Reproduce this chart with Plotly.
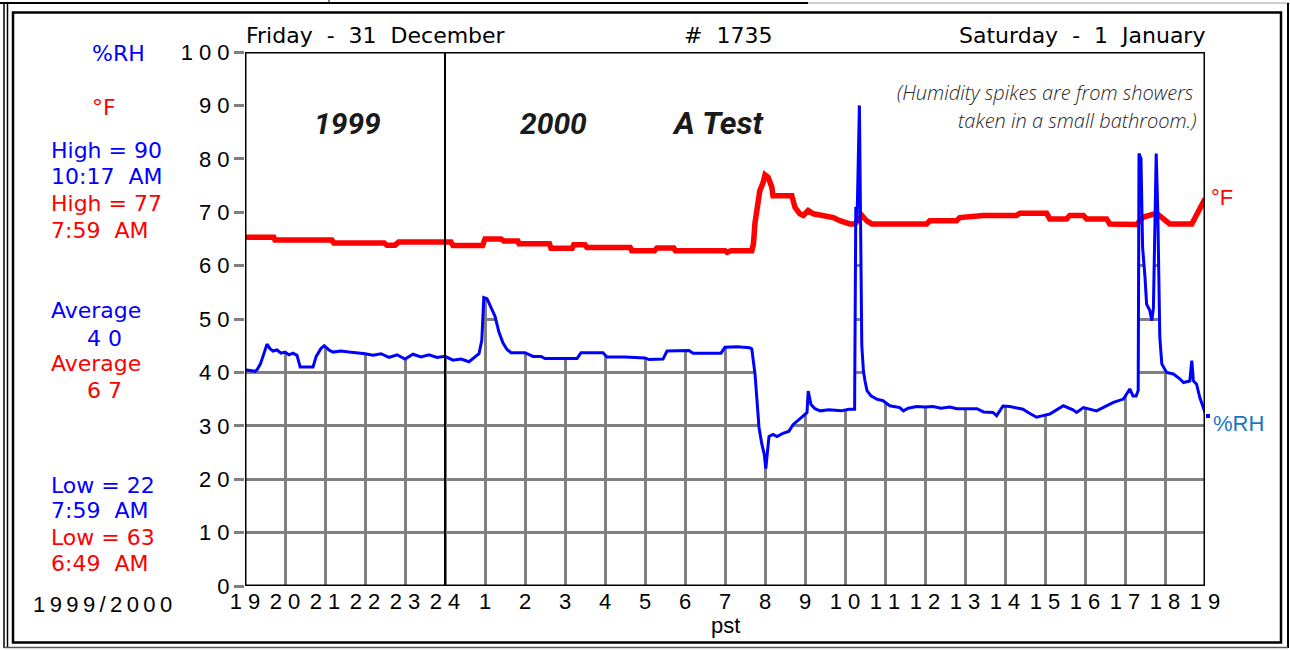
import plotly.graph_objects as go

# ---------------- data ----------------
# hours since 19:00 Friday (0) to 19:00 Saturday (24)
hour_ticks = list(range(25))
hour_labels = ["19", "20", "21", "22", "23", "24", "1", "2", "3", "4", "5", "6", "7",
               "8", "9", "10", "11", "12", "13", "14", "15", "16", "17", "18", "19"]
y_ticks = [0, 10, 20, 30, 40, 50, 60, 70, 80, 90, 100]

rh_hours = [0.0, 0.25, 0.3, 0.38, 0.45, 0.55, 0.62, 0.7, 0.8, 0.9, 1.0, 1.1, 1.2, 1.3, 1.38,
            1.7, 1.78, 1.9, 1.98, 2.1, 2.2, 2.4, 2.6, 2.8, 3.0, 3.2, 3.4, 3.6, 3.8, 4.0,
            4.2, 4.4, 4.6, 4.8, 5.0, 5.2, 5.4, 5.6, 5.75, 5.85, 5.92, 5.97, 6.05, 6.15,
            6.25, 6.35, 6.45, 6.55, 6.65, 7.0, 7.2, 7.4, 7.5, 8.3, 8.4, 8.95, 9.05, 9.5,
            9.8, 10.0, 10.1, 10.45, 10.55, 11.1, 11.2, 11.9, 12.0, 12.3, 12.62, 12.67,
            12.75, 12.79, 12.85, 12.92, 12.98, 13.02, 13.1, 13.2, 13.3, 13.45, 13.6, 13.7,
            13.8, 13.95, 14.05, 14.08, 14.15, 14.25, 14.38, 14.6, 14.9, 15.1, 15.24, 15.27,
            15.3, 15.36, 15.42, 15.46, 15.5, 15.55, 15.65, 15.79, 15.95, 16.12, 16.37,
            16.46, 16.58, 16.79, 17.0, 17.2, 17.4, 17.62, 17.8, 18.3, 18.46, 18.7, 18.79,
            18.95, 19.12, 19.45, 19.6, 19.79, 19.95, 20.12, 20.46, 20.7, 20.79, 20.96,
            21.29, 21.46, 21.71, 21.96, 22.12, 22.2, 22.28, 22.33, 22.35, 22.4, 22.44,
            22.5, 22.54, 22.62, 22.67, 22.71, 22.75, 22.78, 22.82, 22.87, 22.92, 23.04,
            23.21, 23.37, 23.46, 23.62, 23.67, 23.71, 23.79, 23.87, 23.96, 24.0]
rh_values = [40.5, 40.2, 40.5, 41.5, 43.0, 45.3, 44.5, 44.0, 44.2, 43.6, 43.8, 43.3, 43.6,
             43.2, 41.0, 41.0, 43.0, 44.5, 45.0, 44.2, 43.8, 44.0, 43.8, 43.7, 43.5, 43.2,
             43.5, 42.8, 43.3, 42.5, 43.4, 42.9, 43.3, 42.8, 43.0, 42.3, 42.5, 42.0, 42.8,
             43.5, 46.0, 54.0, 53.8, 52.0, 50.5, 47.5, 45.5, 44.3, 43.7, 43.7, 43.0, 43.0,
             42.6, 42.6, 43.7, 43.7, 42.9, 42.9, 42.7, 42.7, 42.4, 42.5, 44.0, 44.1, 43.6,
             43.6, 44.7, 44.8, 44.6, 44.4, 39.7, 35.3, 29.7, 26.6, 24.7, 22.0, 28.0, 28.4,
             28.0, 28.6, 29.0, 30.2, 30.8, 31.8, 32.5, 36.5, 34.0, 33.2, 32.8, 33.0, 32.8,
             33.1, 33.1, 71.0, 68.0, 90.0, 45.0, 40.3, 38.4, 36.6, 35.6, 35.0, 34.7, 33.75,
             33.4, 32.8, 33.3, 33.6, 33.5, 33.6, 33.3, 33.5, 33.2, 33.2, 32.6, 32.5, 31.9,
             33.7, 33.6, 33.1, 32.4, 31.6, 31.9, 32.2, 33.75, 33.0, 32.5, 33.4, 32.8, 33.4,
             34.4, 35.0, 36.9, 35.6, 35.6, 36.6, 81.0, 80.0, 63.4, 57.8, 52.8, 51.6, 49.7,
             52.0, 70.0, 81.0, 70.0, 46.6, 41.6, 40.0, 39.7, 38.8, 38.1, 38.4, 42.2, 38.4,
             37.8, 35.3, 33.4, 32.5]

temp_hours = [0.0, 0.72, 0.75, 2.17, 2.22, 3.48, 3.55, 3.75, 3.84, 5.15, 5.2, 5.94, 6.0,
              6.4, 6.47, 6.82, 6.85, 7.61, 7.65, 8.18, 8.22, 8.5, 8.55, 9.63, 9.67, 10.24,
              10.3, 10.72, 10.76, 12.0, 12.05, 12.15, 12.67, 12.71, 12.75, 12.79, 12.87,
              12.95, 13.0, 13.08, 13.17, 13.2, 13.67, 13.75, 13.87, 13.96, 14.08, 14.21,
              14.46, 14.71, 14.87, 15.12, 15.25, 15.42, 15.54, 15.67, 17.04, 17.12, 17.79,
              17.87, 18.46, 19.29, 19.37, 20.04, 20.12, 20.54, 20.62, 20.96, 21.04, 21.54,
              21.62, 22.12, 22.29, 22.46, 22.79, 22.96, 23.12, 23.67, 23.79, 23.92, 24.0]
temp_values = [65.3, 65.3, 64.8, 64.8, 64.25, 64.25, 63.8, 63.8, 64.4, 64.4, 63.75, 63.75,
               65.0, 65.0, 64.6, 64.6, 64.1, 64.1, 63.25, 63.25, 63.9, 63.9, 63.4, 63.4,
               62.8, 62.8, 63.3, 63.3, 62.8, 62.8, 62.5, 62.8, 62.8, 64.0, 68.0, 70.3, 74.0,
               75.5, 77.0, 76.5, 74.7, 73.1, 73.1, 70.9, 69.7, 69.4, 70.3, 69.7, 69.4, 69.0,
               68.4, 67.8, 67.8, 69.4, 68.4, 67.8, 67.8, 68.4, 68.4, 69.0, 69.4, 69.4, 69.8,
               69.8, 68.75, 68.75, 69.4, 69.4, 68.75, 68.75, 67.8, 67.8, 67.7, 69.1, 69.8,
               68.75, 67.8, 67.8, 69.4, 71.25, 72.5]

BLUE = "#0000ff"
RED = "#ff0000"
FONT = "Liberation Sans, Arial, sans-serif"
WIDE = "DejaVu Sans, Liberation Sans, sans-serif"
NB = "\u00a0"

# ---------------- layout geometry ----------------
W, H = 1290, 650
L, R, T, B = 245, 85, 52, 64
PW, PH = W - L - R, H - T - B


def px(x, y):
    return (x - L) / PW, (H - B - y) / PH


def spaced(s):
    return NB.join(list(s))


fig = go.Figure()

# white cover above the humidity curve (grid only visible below it)
fig.add_trace(go.Scatter(x=rh_hours, y=[100] * len(rh_hours), mode="lines",
                         line=dict(width=0, color="white"), hoverinfo="skip",
                         showlegend=False))
fig.add_trace(go.Scatter(x=rh_hours, y=rh_values, mode="lines", fill="tonexty",
                         fillcolor="white", line=dict(width=0, color="white"),
                         hoverinfo="skip", showlegend=False))
fig.add_trace(go.Scatter(x=temp_hours, y=temp_values, mode="lines", name="°F",
                         line=dict(color=RED, width=5.5), showlegend=False))
fig.add_trace(go.Scatter(x=rh_hours, y=rh_values, mode="lines", name="%RH",
                         line=dict(color=BLUE, width=3), showlegend=False))

fig.update_xaxes(range=[0, 24], tickvals=hour_ticks,
                 ticktext=[spaced(t) for t in hour_labels],
                 showgrid=True, gridcolor="#808080", gridwidth=2.5, zeroline=False,
                 showline=False, ticks="", tickfont=dict(family=FONT, size=22, color="black"),
                 fixedrange=True)
fig.update_yaxes(range=[0, 100], tickvals=y_ticks,
                 ticktext=[spaced(str(v)) for v in y_ticks],
                 showgrid=True, gridcolor="#808080", gridwidth=2.5, zeroline=False,
                 showline=False, ticks="outside", ticklen=10, tickwidth=2.5,
                 tickcolor="#808080", tickfont=dict(family=FONT, size=22, color="black"),
                 fixedrange=True)

shapes = []
# plot frame
shapes.append(dict(type="rect", xref="x", yref="y", x0=0, x1=24, y0=0, y1=100,
                   line=dict(color="black", width=3), layer="above"))
# midnight divider
shapes.append(dict(type="line", xref="x", yref="y", x0=5, x1=5, y0=0, y1=100,
                   line=dict(color="black", width=2), layer="above"))


def pline(x0, y0, x1, y1, color="black", width=2):
    a, b = px(x0, y0)
    c, d = px(x1, y1)
    shapes.append(dict(type="line", xref="paper", yref="paper", x0=a, y0=b, x1=c, y1=d,
                       line=dict(color=color, width=width), layer="above"))


# outer page frame
pline(0, 3, 808, 3, "black", 2)
pline(808, 3, 1290, 3, "#9a9a9a", 1)
pline(329, 0, 329, 4, "black", 1)
pline(4, 3, 4, 648, "black", 1.5)
pline(7.5, 3, 7.5, 648, "black", 1.5)
pline(1288, 3, 1288, 648, "black", 2)
pline(4, 647.5, 1288, 647.5, "#555555", 1.5)
# inner frame
a, b = px(13, 12.5)
c, d = px(1281, 642.5)
shapes.append(dict(type="rect", xref="paper", yref="paper", x0=a, y0=d, x1=c, y1=b,
                   line=dict(color="black", width=2.5), layer="above"))
# small blue end dot
a, b = px(1206, 414)
c, d = px(1210, 418)
shapes.append(dict(type="rect", xref="paper", yref="paper", x0=a, y0=d, x1=c, y1=b,
                   line=dict(width=0), fillcolor=BLUE, layer="above"))

annotations = []


def text(s, x, y, color="black", size=22, anchor="center", family=WIDE, style="normal",
         weight="normal"):
    xp, yp = px(x, y)
    annotations.append(dict(text=s, x=xp, y=yp, xref="paper", yref="paper",
                            xanchor=anchor, yanchor="middle", showarrow=False,
                            font=dict(family=family, size=size, color=color, style=style,
                                      weight=weight)))


# top titles
text(f"Friday{NB}{NB}-{NB}{NB}31{NB}{NB}December", 244, 35, anchor="left")
text(f"#{NB}{NB}1735", 728, 35)
text(f"Saturday{NB}{NB}-{NB}{NB}1{NB}{NB}January", 1207, 35, anchor="right")

# left legend / statistics
text("%RH", 118, 53, BLUE)
text("°F", 104, 107, RED)
text("High = 90", 49, 150, BLUE, anchor="left")
text(f"10:17{NB}{NB}AM", 49, 176, BLUE, anchor="left")
text("High = 77", 49, 203, RED, anchor="left")
text(f"7:59{NB}{NB}AM", 49, 230, RED, anchor="left")
text("Average", 49, 310, BLUE, anchor="left")
text(spaced("40"), 104, 338, BLUE)
text("Average", 49, 363, RED, anchor="left")
text(spaced("67"), 104, 390, RED)
text("Low = 22", 49, 485, BLUE, anchor="left")
text(f"7:59{NB}{NB}AM", 49, 510, BLUE, anchor="left")
text("Low = 63", 49, 537, RED, anchor="left")
text(f"6:49{NB}{NB}AM", 49, 563, RED, anchor="left")
text("\u2009".join(list("1999/2000")), 102, 604, "black", 22, family=FONT)

# right labels
text("°F", 1209, 197, RED, 22, "left", FONT)
text("%RH", 1211, 423, "#1a78c2", 22, "left", FONT)

# axis title
text("pst", 725, 625, "black", 22, family=FONT)

# in-plot notes
HAND = "Liberation Sans Narrow, Roboto, sans-serif"
text("1999", 347, 123, "#1a1a1a", 30, family=HAND, style="italic", weight="bold")
text("2000", 553, 123, "#1a1a1a", 30, family=HAND, style="italic", weight="bold")
text("A Test", 718, 123, "#1a1a1a", 32, family=HAND, style="italic", weight="bold")
NOTE = "Open Sans, Lato, sans-serif"
text("(Humidity spikes are from showers", 1196, 93, "#262626", 20, "right", NOTE, "italic", 300)
text("taken in a small bathroom.)", 1198, 121, "#262626", 20, "right", NOTE, "italic", 300)

fig.update_layout(width=W, height=H, margin=dict(l=L, r=R, t=T, b=B),
                  paper_bgcolor="white", plot_bgcolor="white",
                  shapes=shapes, annotations=annotations, showlegend=False,
                  hovermode=False)

fig.write_html("out.html", config={"displayModeBar": False},
               post_script="document.body.style.margin='0';document.body.style.overflow='hidden';")
